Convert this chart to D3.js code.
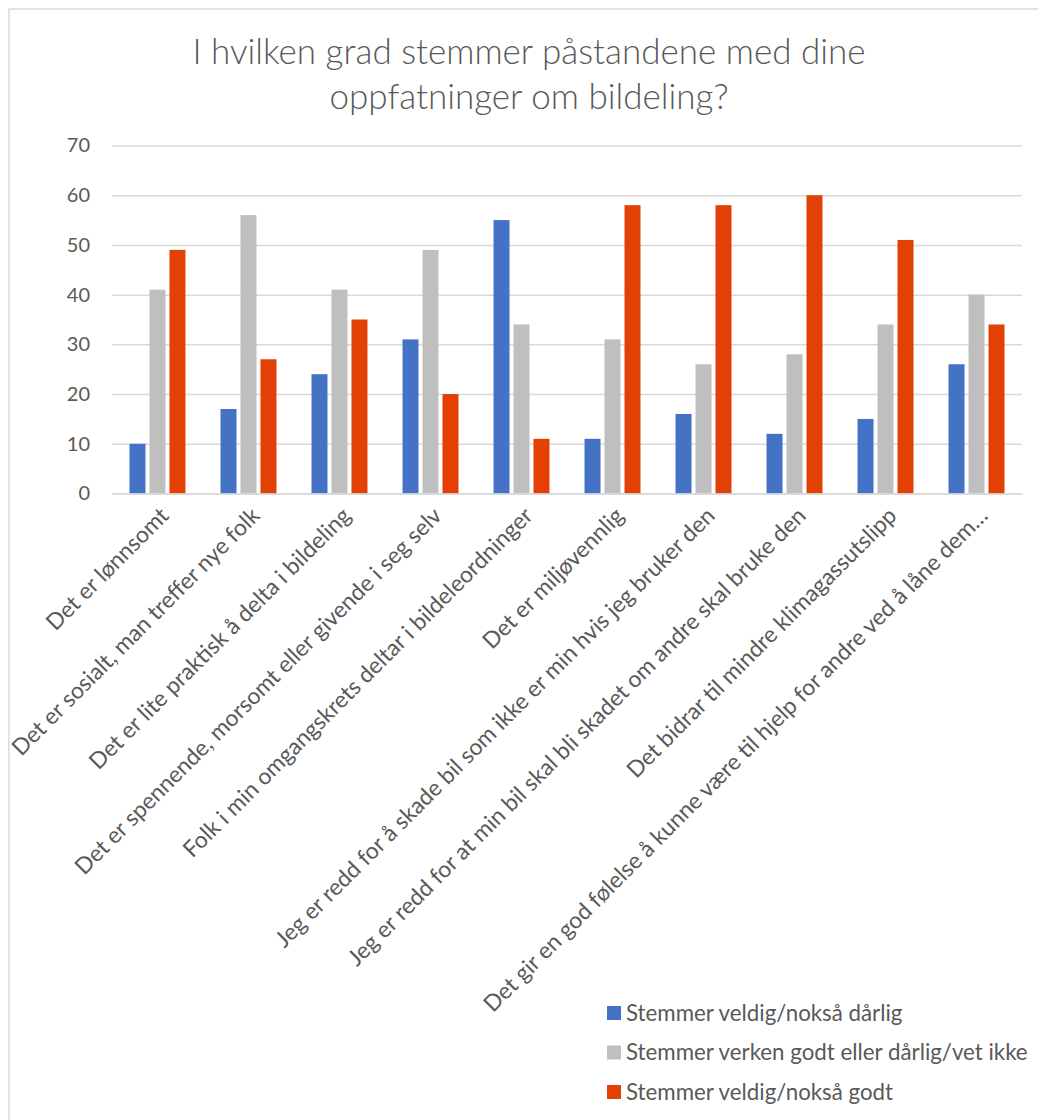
<!DOCTYPE html>
<html>
<head>
<meta charset="utf-8">
<script src="https://cdn.jsdelivr.net/npm/d3@7"></script>
<style>
  html, body { margin: 0; padding: 0; background: #fff; }
  svg { display: block; }
  text { font-family: Lato, "Open Sans", sans-serif; fill: #595959; }
</style>
</head>
<body>
<svg id="chart" width="1038" height="1120"></svg>
<script>
// Survey statements (x-axis categories)
const categories = [
  "Det er lønnsomt",
  "Det er sosialt, man treffer nye folk",
  "Det er lite praktisk å delta i bildeling",
  "Det er spennende, morsomt eller givende i seg selv",
  "Folk i min omgangskrets deltar i bildeleordninger",
  "Det er miljøvennlig",
  "Jeg er redd for å skade bil som ikke er min hvis jeg bruker den",
  "Jeg er redd for at min bil skal bli skadet om andre skal bruke den",
  "Det bidrar til mindre klimagassutslipp",
  "Det gir en god følelse å kunne være til hjelp for andre ved å låne dem…"
];

// Response groups (legend order)
const seriesNames = [
  "Stemmer veldig/nokså dårlig",
  "Stemmer verken godt eller dårlig/vet ikke",
  "Stemmer veldig/nokså godt"
];

// Percent answering per statement
const badValues     = [10, 17, 24, 31, 55, 11, 16, 12, 15, 26];
const neutralValues = [41, 56, 41, 49, 34, 31, 26, 28, 34, 40];
const goodValues    = [49, 27, 35, 20, 11, 58, 58, 60, 51, 34];

const yTicks = [0, 10, 20, 30, 40, 50, 60, 70];

const titleLines = [
  "I hvilken grad stemmer påstandene med dine",
  "oppfatninger om bildeling?"
];

const seriesValues = [badValues, neutralValues, goodValues];
const colors = ["#4472C4", "#BFBFBF", "#E34005"];

const svg = d3.select("#chart");

// chart frame
svg.append("rect")
  .attr("x", 9).attr("y", 9)
  .attr("width", 1040).attr("height", 1120)
  .attr("fill", "#fff")
  .attr("stroke", "#D9D9D9")
  .attr("stroke-width", 1.5);

// title
svg.append("g").selectAll("text")
  .data(titleLines)
  .join("text")
  .attr("x", 529)
  .attr("y", (d, i) => 64 + i * 45)
  .attr("text-anchor", "middle")
  .attr("font-size", 35)
  .attr("font-weight", 300)
  .text(d => d);

const plot = { left: 112, right: 1022, top: 145.5, bottom: 493.5 };

const y = d3.scaleLinear().domain([0, 70]).range([plot.bottom, plot.top]);

const x0 = d3.scaleBand()
  .domain(d3.range(categories.length))
  .range([plot.left, plot.right])
  .paddingInner(0.385)
  .paddingOuter(0.1923);

const x1 = d3.scaleBand()
  .domain(d3.range(seriesNames.length))
  .range([0, x0.bandwidth()])
  .paddingInner(0.2)
  .paddingOuter(0);

// horizontal gridlines + y labels
const yAxis = d3.axisLeft(y)
  .tickValues(yTicks)
  .tickSize(-(plot.right - plot.left))
  .tickPadding(22)
  .tickFormat(d3.format("d"));

const yg = svg.append("g")
  .attr("transform", `translate(${plot.left},0)`)
  .call(yAxis);
yg.select(".domain").remove();
yg.selectAll(".tick line").attr("stroke", "#D9D9D9").attr("stroke-width", 1.5);
yg.selectAll(".tick text")
  .attr("font-size", 20)
  .attr("font-family", "Lato, 'Open Sans', sans-serif")
  .attr("fill", "#595959");

// bars
const groups = svg.append("g").selectAll("g")
  .data(categories.map((c, i) => i))
  .join("g")
  .attr("transform", i => `translate(${x0(i)},0)`);

groups.selectAll("rect")
  .data(i => seriesValues.map((vals, s) => ({ s, v: vals[i] })))
  .join("rect")
  .attr("x", d => x1(d.s))
  .attr("width", x1.bandwidth())
  .attr("y", d => y(d.v))
  .attr("height", d => y(0) - y(d.v))
  .attr("fill", d => colors[d.s]);

// category axis
const xAxis = d3.axisBottom(x0)
  .tickSize(0)
  .tickFormat(i => categories[i]);

const xg = svg.append("g")
  .attr("transform", `translate(0,${plot.bottom})`)
  .call(xAxis);
xg.select(".domain").attr("stroke", "#D9D9D9").attr("stroke-width", 1.5);
xg.selectAll(".tick text")
  .attr("font-size", 22.8)
  .attr("font-family", "Lato, 'Open Sans', sans-serif")
  .attr("fill", "#595959")
  .attr("text-anchor", "end")
  .attr("y", 0)
  .attr("dy", "0.35em")
  .attr("transform", "translate(7,18) rotate(-45)");

// legend
const legend = svg.append("g").selectAll("g")
  .data(seriesNames)
  .join("g")
  .attr("transform", (d, i) => `translate(607,${1013 + i * 39.5})`);

legend.append("rect")
  .attr("x", 0).attr("y", -7)
  .attr("width", 14).attr("height", 14)
  .attr("fill", (d, i) => colors[i]);

legend.append("text")
  .attr("x", 19)
  .attr("dy", "0.35em")
  .attr("font-size", 22.3)
  .text(d => d);
</script>
</body>
</html>
